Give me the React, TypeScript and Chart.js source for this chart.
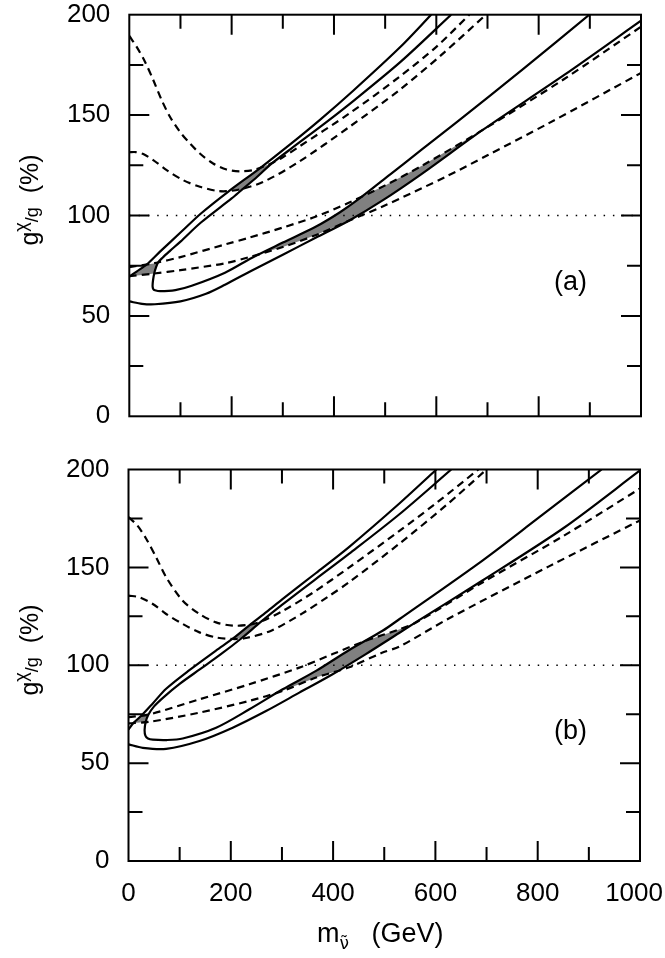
import React, { useEffect, useRef } from 'react';
import { Chart, registerables } from 'chart.js';

Chart.register(...registerables);

type P = [number, number];

// ---- axes ----
const xTickLabels = ['0', '200', '400', '600', '800', '1000'];
const yTickLabels = ['0', '50', '100', '150', '200'];
const xTickMarks = [100, 200, 300, 400, 500, 600, 700, 800, 900];
const yTickMarks = [25, 50, 75, 100, 125, 150, 175];
const refLine: P[] = [[0, 100], [1000, 100]];

// ---- panel (a) ----
const aOuterUpper: P[] = [[0, 69.6], [15, 72.2], [34, 75.6], [60, 82], [100, 91.5], [140, 101], [193, 111.8], [255, 123.5], [310, 134.5], [372, 147.5], [437, 162], [528, 183.5], [590, 200]];
const aOuterLower: P[] = [[0, 57.2], [25, 56], [50, 55.8], [100, 57.2], [150, 61], [187, 65.5], [235, 72], [300, 80.5], [365, 89], [430, 97.5], [495, 107.5], [573, 121], [690, 142.5], [850, 170], [1000, 197]];
const aInner: P[] = [[629, 200], [530, 176.5], [440, 157.5], [380, 145.5], [320, 134], [278, 125.8], [250, 119.3], [219, 112.6], [200, 108.5], [140, 96.5], [100, 87], [80, 82.5], [65, 79], [56, 76.5], [52, 74], [49, 71.5], [46.5, 68], [45.5, 64.8], [47, 63.3], [50, 62.8], [60, 62.3], [90, 62.8], [122, 65], [187, 71.5], [240, 79], [300, 86.5], [365, 94.5], [411, 101.5], [450, 108.5], [510, 120.5], [570, 132.5], [640, 146.5], [770, 173], [899, 200]];
const aDashTop1: P[] = [[0, 189.4], [14.4, 184], [30.6, 176.6], [46.8, 167.5], [63.2, 157.5], [79.4, 149.2], [98.9, 141.7], [118.4, 135.9], [137.9, 130.9], [163.8, 125.9], [190, 122.9], [215.9, 122], [241.9, 122.6], [261.4, 124.3], [278, 126], [300, 129], [330, 134], [430.5, 150.9], [528, 169.1], [600, 184], [664.6, 200]];
const aDashTop2: P[] = [[0, 131.5], [12, 131.6], [27.3, 130.6], [46.8, 127.6], [73, 122.6], [105.3, 117.6], [137.9, 114.3], [170.5, 112.3], [190, 112.1], [215.9, 113], [260, 116.5], [330, 126.5], [430.5, 144.2], [528, 162.5], [610, 180], [697, 200]];
const aDashLow1: P[] = [[0, 74.3], [50, 76.3], [100, 79.3], [190, 85.8], [235, 89], [300, 94], [365, 99.5], [430, 106.5], [500, 115], [570, 124.5], [690, 142.5], [850, 168], [1000, 194]];
const aDashLow2: P[] = [[0, 69.8], [48.5, 71.1], [100, 72.8], [187, 76.2], [235, 79.3], [300, 84.3], [365, 90.3], [430, 97.5], [495, 104.5], [620, 119.5], [700, 130], [820, 146], [1000, 171]];
const aShadeLeft: P[] = [[0, 69.8], [15, 72.2], [34, 75.6], [55, 76.4], [52, 74], [48.5, 71.1], [20, 70.3]];
const aShadeUpper: P[] = [[195, 112.2], [225, 117.8], [258, 124.1], [268, 125], [278, 125.9], [250, 119.3], [221, 113.1], [205, 112.5]];
const aShadeLower: P[] = [[255, 80.9], [300, 86.5], [365, 94.5], [411, 101.5], [450, 108.5], [470, 111.4], [500, 115], [570, 124.5], [630, 133.5], [690, 142.5], [630, 131.5], [573, 121], [495, 107.5], [430, 97.5], [365, 90.3], [300, 84.3]];

// ---- panel (b) ----
const bOuterUpper: P[] = [[0, 67.2], [10, 70.6], [25, 74.2], [47.5, 80.5], [73.6, 88], [119, 97.5], [171, 107.5], [205, 113.8], [238, 120.8], [270, 127.3], [301, 133.8], [366, 147], [431.6, 160.5], [529, 182.5], [602, 200]];
const bOuterLower: P[] = [[0, 59.6], [28, 57.8], [73.6, 57.3], [138.7, 61.3], [203.7, 68.1], [268.9, 76.6], [334, 86], [399, 95.4], [464, 105.7], [529, 116.5], [562, 122], [692, 143.3], [850, 170], [1000, 199.5]];
const bInner: P[] = [[631, 200], [529, 177], [431.6, 157], [366, 144], [300, 130.8], [258, 122], [221, 113.8], [180, 105.5], [140, 98], [100, 90.5], [70, 84], [50, 79], [38.5, 74.6], [33.5, 70.9], [31.5, 67], [33, 64], [38, 62.6], [47.5, 62], [75, 61.8], [106, 62.6], [171.3, 68.1], [236.3, 77.5], [301.4, 87.7], [366.6, 97.1], [431.6, 107.8], [496.7, 117.6], [529.3, 123.5], [692, 153.5], [800, 175], [925, 200]];
const bDashTop1: P[] = [[0, 175.7], [17, 171.5], [34.6, 164.6], [54, 155.2], [73.6, 145], [106, 133], [138.7, 126.2], [171.3, 121.9], [203.7, 120.2], [236.3, 120.7], [256, 122], [300, 127.5], [360, 137], [431.6, 150], [529, 168.5], [600, 182.5], [684, 200]];
const bDashTop2: P[] = [[0, 135.6], [21.5, 134.7], [47.5, 131.3], [73.6, 126.2], [106, 121.1], [138.7, 116.8], [171.3, 114.2], [203.7, 113.4], [230, 113.9], [280, 117.8], [340, 126.5], [390, 135], [431.6, 142.5], [529, 162], [620, 181.5], [700, 200]];
const bDashLow1: P[] = [[0, 73.5], [41, 74.9], [138.7, 82.6], [236.3, 90.3], [334, 98.8], [399, 105.7], [464, 112.5], [529, 118.3], [562, 121.8], [692, 142.3], [850, 166], [1000, 190.3]];
const bDashLow2: P[] = [[0, 70.3], [41, 71.1], [138.7, 75.8], [236.3, 81.8], [301.4, 86.9], [366.6, 93.7], [431.6, 99], [496.7, 106.5], [529.3, 109.5], [627, 124], [822, 150.5], [1000, 174]];
const bShadeLeft: P[] = [[10, 70.5], [25, 74.2], [38.5, 74.8], [33.5, 71]];
const bShadeUpper: P[] = [[205, 113.6], [222, 117.4], [238, 120.8], [248, 121.4], [258, 122], [240, 118], [221, 113.8], [213, 113.5]];
const bShadeLower: P[] = [[290, 86], [330, 91.8], [366.6, 97.1], [400, 102.7], [431.6, 107.8], [450, 110.6], [464, 112.5], [529, 118.3], [562, 122], [529, 116.5], [464, 105.7], [431.6, 100.6], [400, 96.4], [366.6, 93.7], [330, 89.9]];

const FONT = "'Liberation Sans', Arial, Helvetica, sans-serif";

const pts = (d: P[]) => d.map(([x, y]) => ({ x, y }));
const solid = (d: P[]) => ({ data: pts(d), borderColor: '#000', borderWidth: 2.2, pointRadius: 0, tension: 0.3, fill: false, order: 1 });
const dashed = (d: P[]) => ({ ...solid(d), borderDash: [7.5, 5] });
const dotted = (d: P[]) => ({ data: pts(d), borderColor: '#000', borderWidth: 1.3, borderDash: [1.5, 7.8], pointRadius: 0, tension: 0, fill: false, order: 1 });
const shade = (d: P[]) => ({ data: pts(d), borderColor: 'rgba(0,0,0,0)', borderWidth: 0, backgroundColor: '#808080', fill: 'shape', pointRadius: 0, tension: 0, order: 2 });

// inward tick marks and the frame round the plot
const frameTicks = {
  id: 'frameTicks',
  afterDraw(chart: any) {
    const { ctx, chartArea: a, scales } = chart;
    ctx.save();
    ctx.strokeStyle = '#000';
    ctx.lineWidth = 2;
    ctx.beginPath();
    xTickMarks.forEach((v) => {
      const px = scales.x.getPixelForValue(v);
      const len = v % 200 === 0 ? 20 : 14;
      ctx.moveTo(px, a.bottom); ctx.lineTo(px, a.bottom - len);
      ctx.moveTo(px, a.top); ctx.lineTo(px, a.top + len);
    });
    yTickMarks.forEach((v) => {
      const py = scales.y.getPixelForValue(v);
      const len = v % 50 === 0 ? 20 : 14;
      ctx.moveTo(a.left, py); ctx.lineTo(a.left + len, py);
      ctx.moveTo(a.right, py); ctx.lineTo(a.right - len, py);
    });
    ctx.stroke();
    ctx.strokeRect(a.left, a.top, a.right - a.left, a.bottom - a.top);
    ctx.restore();
  },
};

// keep the last x label inside the canvas (gnuplot pulls "1000" in)
const edgeLabels = {
  id: 'edgeLabels',
  beforeDraw(chart: any) {
    const s = chart.scales.x;
    if (!s.options.ticks.display) return;
    const ctx = chart.ctx;
    for (const it of s.getLabelItems()) {
      ctx.font = it.font.string;
      const w = ctx.measureText(String(it.label)).width;
      const t = it.options.translation;
      if (t[0] + w / 2 > chart.width - 2) t[0] = chart.width - 2 - w / 2;
    }
  },
};

type Geo = { top: number; height: number; left: number; right: number; areaTop: number; areaBottom: number; showX: boolean };

function Panel({ datasets, geo }: { datasets: any[]; geo: Geo }) {
  const ref = useRef<HTMLCanvasElement>(null);
  useEffect(() => {
    if (!ref.current) return;
    const xh = geo.showX ? 60 : 0;
    const chart = new Chart(ref.current, {
      type: 'line',
      data: { datasets },
      options: {
        responsive: false,
        animation: false,
        events: [],
        layout: {
          padding: { left: 0, top: geo.areaTop, right: 665 - geo.right, bottom: geo.height - geo.areaBottom - xh },
        },
        plugins: { legend: { display: false }, tooltip: { enabled: false }, title: { display: false } },
        scales: {
          x: {
            type: 'linear', min: 0, max: 1000,
            ticks: {
              display: geo.showX, stepSize: 200, autoSkip: false, maxRotation: 0, padding: 17.5,
              color: '#000', font: { family: FONT, size: 26 },
              callback: (_v: any, i: number) => xTickLabels[i],
            },
            grid: { display: false, drawTicks: false },
            border: { display: false },
            afterFit: (s: any) => { s.height = xh; s.paddingLeft = 0; s.paddingRight = 0; },
          },
          y: {
            type: 'linear', min: 0, max: 200,
            ticks: {
              stepSize: 50, padding: 19, color: '#000', font: { family: FONT, size: 26 },
              callback: (_v: any, i: number) => yTickLabels[i],
            },
            grid: { display: false, drawTicks: false },
            border: { display: false },
            afterFit: (s: any) => { s.width = geo.left; s.paddingTop = 0; s.paddingBottom = 0; },
          },
        },
      } as any,
      plugins: [frameTicks, edgeLabels],
    });
    return () => chart.destroy();
  }, []);
  return (
    <canvas ref={ref} width={665} height={geo.height}
      style={{ position: 'absolute', left: 0, top: geo.top, width: 665, height: geo.height }} />
  );
}

function YTitle({ cy }: { cy: number }) {
  return (
    <div style={{
      position: 'absolute', left: 29.3 - 100, top: cy - 15, width: 200, height: 30, lineHeight: '30px',
      textAlign: 'center', transform: 'rotate(-90deg)', fontFamily: FONT, fontSize: 25, whiteSpace: 'nowrap', color: '#000',
    }}>
      g<span style={{ fontSize: 18, position: 'relative', top: -11 }}>{'\u03c7'}</span>
      <span style={{ fontSize: 18 }}>/g</span>{'\u00a0\u00a0(%)'}
    </div>
  );
}

const panelA = [
  shade(aShadeLeft), shade(aShadeUpper), shade(aShadeLower),
  solid(aOuterUpper), solid(aOuterLower), solid(aInner),
  dashed(aDashTop1), dashed(aDashTop2), dashed(aDashLow1), dashed(aDashLow2),
  dotted(refLine),
];
const panelB = [
  shade(bShadeLeft), shade(bShadeUpper), shade(bShadeLower),
  solid(bOuterUpper), solid(bOuterLower), solid(bInner),
  dashed(bDashTop1), dashed(bDashTop2), dashed(bDashLow1), dashed(bDashLow2),
  dotted(refLine),
];

export default function App() {
  return (
    <div style={{ position: 'fixed', left: 0, top: 0, width: 665, height: 958, background: '#fff', overflow: 'hidden' }}>
      <Panel datasets={panelA} geo={{ top: 0, height: 440, left: 129.3, right: 641, areaTop: 14.7, areaBottom: 416.3, showX: false }} />
      <Panel datasets={panelB} geo={{ top: 440, height: 518, left: 128.5, right: 640, areaTop: 29.5, areaBottom: 421, showX: true }} />
      <YTitle cy={200} />
      <YTitle cy={650} />
      <div style={{ position: 'absolute', left: 554, top: 267.7, fontFamily: FONT, fontSize: 27, lineHeight: '27px', color: '#000' }}>(a)</div>
      <div style={{ position: 'absolute', left: 554, top: 717.2, fontFamily: FONT, fontSize: 27, lineHeight: '27px', color: '#000' }}>(b)</div>
      <div style={{ position: 'absolute', left: 317, top: 918, fontFamily: FONT, fontSize: 27, lineHeight: '30px', whiteSpace: 'nowrap', color: '#000' }}>
        m<span style={{ fontFamily: "'DejaVu Sans', sans-serif", fontSize: 17, position: 'relative', top: 7 }}>{'\u03bd\u0303'}</span>{'\u00a0\u00a0\u00a0(GeV)'}
      </div>
    </div>
  );
}
